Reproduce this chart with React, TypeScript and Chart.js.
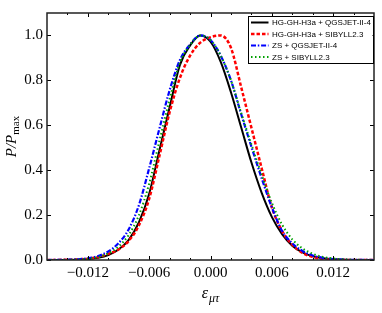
import React, { useEffect, useRef } from "react";
import { Chart, registerables } from "chart.js";

Chart.register(...registerables);

// x values (epsilon_mu_tau)
const EPS = [
  -0.016, -0.015, -0.014, -0.013, -0.012, -0.011, -0.01, -0.009, -0.008, -0.007, -0.006,
  -0.005, -0.004, -0.003, -0.002, -0.001, 0, 0.001, 0.002, 0.003, 0.004, 0.005,
  0.006, 0.007, 0.008, 0.009, 0.01, 0.011, 0.012, 0.013, 0.014, 0.015, 0.016,
];

const SERIES_LABELS = [
  "HG-GH-H3a + QGSJET-II-4",
  "HG-GH-H3a + SIBYLL2.3",
  "ZS + QGSJET-II-4",
  "ZS + SIBYLL2.3",
];

const H3A_QGSJET = [
  0.0, 0.0001, 0.0004, 0.0013, 0.0037, 0.0095, 0.022, 0.047, 0.09, 0.168, 0.295,
  0.488, 0.68, 0.868, 0.955, 1.0, 0.972, 0.882, 0.747, 0.591, 0.435, 0.3,
  0.192, 0.115, 0.064, 0.034, 0.0164, 0.0074, 0.0031, 0.0012, 0.0004, 0.0002, 0.0001,
];

const H3A_SIBYLL = [
  0.0001, 0.0004, 0.001, 0.0025, 0.006, 0.013, 0.027, 0.047, 0.085, 0.155, 0.273,
  0.463, 0.658, 0.81, 0.91, 0.968, 0.992, 1.0, 0.945, 0.77, 0.59, 0.41,
  0.235, 0.13, 0.068, 0.032, 0.0134, 0.0051, 0.0018, 0.0006, 0.0002, 0.0001, 0.0,
];

const ZS_QGSJET = [
  0.0001, 0.0004, 0.0012, 0.0031, 0.0078, 0.018, 0.038, 0.075, 0.137, 0.245, 0.409,
  0.585, 0.756, 0.89, 0.96, 1.0, 0.98, 0.91, 0.8, 0.65, 0.505, 0.365,
  0.235, 0.13, 0.074, 0.04, 0.02, 0.0095, 0.0042, 0.0017, 0.0007, 0.0003, 0.0001,
];

const ZS_SIBYLL = [
  0.0001, 0.0003, 0.0008, 0.002, 0.0055, 0.013, 0.03, 0.06, 0.112, 0.2, 0.34,
  0.53, 0.715, 0.878, 0.958, 1.0, 0.98, 0.91, 0.8, 0.655, 0.515, 0.38,
  0.255, 0.158, 0.092, 0.052, 0.028, 0.014, 0.0065, 0.0028, 0.0011, 0.0004, 0.0002,
];

const X_MAJOR = [-0.012, -0.006, 0, 0.006, 0.012];
const X_MAJOR_LABELS = ["\u22120.012", "\u22120.006", "0.000", "0.006", "0.012"];
const X_MINOR = [-0.014, -0.01, -0.008, -0.004, -0.002, 0.002, 0.004, 0.008, 0.01, 0.014];
const Y_MAJOR = [0, 0.2, 0.4, 0.6, 0.8, 1.0];
const Y_MAJOR_LABELS = ["0.0", "0.2", "0.4", "0.6", "0.8", "1.0"];

const SERIF = "'Liberation Serif', 'DejaVu Serif', serif";
const SANS = "'Liberation Sans', Arial, sans-serif";

const decorPlugin = {
  id: "decor",
  afterDatasetsDraw(chart: any) {
    const { ctx, chartArea: ca, scales } = chart;
    const xs = scales.x;
    const ys = scales.y;
    ctx.save();
    ctx.strokeStyle = "#000";
    ctx.lineWidth = 1;
    // ticks
    ctx.beginPath();
    for (const v of X_MAJOR) {
      const px = Math.round(xs.getPixelForValue(v)) + 0.5;
      ctx.moveTo(px, ca.bottom); ctx.lineTo(px, ca.bottom - 4);
      ctx.moveTo(px, ca.top); ctx.lineTo(px, ca.top + 4);
    }
    for (const v of X_MINOR) {
      const px = Math.round(xs.getPixelForValue(v)) + 0.5;
      ctx.moveTo(px, ca.bottom); ctx.lineTo(px, ca.bottom - 2);
      ctx.moveTo(px, ca.top); ctx.lineTo(px, ca.top + 2);
    }
    for (const v of Y_MAJOR) {
      const py = Math.round(ys.getPixelForValue(v)) + 0.5;
      ctx.moveTo(ca.left, py); ctx.lineTo(ca.left + 4, py);
      ctx.moveTo(ca.right, py); ctx.lineTo(ca.right - 4, py);
    }
    ctx.stroke();
    // frame
    ctx.lineWidth = 1.5;
    ctx.strokeStyle = "#222";
    ctx.strokeRect(ca.left, ca.top, ca.right - ca.left, ca.bottom - ca.top);
    ctx.restore();
  },
  afterDraw(chart: any) {
    const { ctx, chartArea: ca } = chart;
    ctx.save();
    // legend
    const lx = ca.right - 126.5;
    const ly = ca.top + 3;
    const lw = 125;
    const lh = 47;
    ctx.fillStyle = "#fff";
    ctx.fillRect(lx, ly, lw, lh);
    ctx.strokeStyle = "#000";
    ctx.lineWidth = 1;
    ctx.strokeRect(Math.round(lx) + 0.5, Math.round(ly) + 0.5, Math.round(lw), Math.round(lh));
    ctx.font = `8px ${SANS}`;
    ctx.textBaseline = "middle";
    ctx.textAlign = "left";
    chart.data.datasets.forEach((ds: any, i: number) => {
      const y = ly + 6.5 + i * 11.5;
      ctx.save();
      ctx.strokeStyle = ds.borderColor;
      ctx.lineWidth = ds.borderWidth;
      ctx.setLineDash(ds.borderDash || []);
      ctx.beginPath();
      ctx.moveTo(lx + 3.5, y);
      ctx.lineTo(lx + 21, y);
      ctx.stroke();
      ctx.restore();
      ctx.fillStyle = "#000";
      ctx.fillText(ds.label, lx + 24.5, y + 0.5);
    });

    // x title: epsilon_{mu tau}
    ctx.fillStyle = "#000";
    ctx.textBaseline = "alphabetic";
    const mainX = "\u03b5";
    const subX = "\u03bc\u03c4";
    ctx.font = `italic 16px ${SERIF}`;
    const w1 = ctx.measureText(mainX).width;
    ctx.font = `italic 12px ${SERIF}`;
    const w2 = ctx.measureText(subX).width;
    const cx = (ca.left + ca.right) / 2;
    const sx = cx - (w1 + w2 + 1) / 2;
    ctx.font = `italic 16px ${SERIF}`;
    ctx.fillText(mainX, sx, 298);
    ctx.font = `italic 12px ${SERIF}`;
    ctx.fillText(subX, sx + w1 + 1, 302);

    // y title: P/P_max
    const mainY = "P/P";
    const subY = "max";
    ctx.font = `italic 15px ${SERIF}`;
    const v1 = ctx.measureText(mainY).width;
    ctx.font = `11px ${SERIF}`;
    const v2 = ctx.measureText(subY).width;
    const cy = (ca.top + ca.bottom) / 2;
    ctx.translate(16, cy);
    ctx.rotate(-Math.PI / 2);
    const st = -(v1 + v2) / 2;
    ctx.font = `italic 15px ${SERIF}`;
    ctx.fillText(mainY, st, 0);
    ctx.font = `11px ${SERIF}`;
    ctx.fillText(subY, st + v1, 2.5);
    ctx.restore();
  },
};

export default function App() {
  const ref = useRef<HTMLCanvasElement | null>(null);
  useEffect(() => {
    if (!ref.current) return;
    const mk = (arr: number[]) => EPS.map((x, i) => ({ x, y: arr[i] }));
    const chart = new Chart(ref.current, {
      type: "line",
      data: {
        datasets: [
          { label: SERIES_LABELS[0], data: mk(H3A_QGSJET), borderColor: "#000000", borderWidth: 2, borderDash: [], order: 3 },
          { label: SERIES_LABELS[1], data: mk(H3A_SIBYLL), borderColor: "#ff0000", borderWidth: 2.5, borderDash: [3.5, 2], order: 2 },
          { label: SERIES_LABELS[2], data: mk(ZS_QGSJET), borderColor: "#0000ff", borderWidth: 2.2, borderDash: [5, 1.8, 1.5, 1.8], order: 1 },
          { label: SERIES_LABELS[3], data: mk(ZS_SIBYLL), borderColor: "#00a000", borderWidth: 2, borderDash: [1.5, 2.5], order: 0 },
        ] as any,
      },
      options: {
        animation: false,
        responsive: true,
        maintainAspectRatio: false,
        layout: { padding: { left: 0, right: 8, top: 7, bottom: 0 } },
        elements: { point: { radius: 0 }, line: { cubicInterpolationMode: "monotone", fill: false } },
        plugins: { legend: { display: false }, tooltip: { enabled: false } },
        scales: {
          x: {
            type: "linear",
            min: -0.016,
            max: 0.016,
            grid: { display: false, drawTicks: false },
            border: { display: false },
            afterBuildTicks: (s: any) => { s.ticks = X_MAJOR.map((v) => ({ value: v })); },
            afterFit: (s: any) => { s.height = 53; },
            ticks: {
              autoSkip: false,
              maxRotation: 0,
              padding: 4,
              color: "#000",
              font: { family: SERIF, size: 15 },
              callback: (_v: any, i: number) => X_MAJOR_LABELS[i],
            },
          },
          y: {
            type: "linear",
            min: 0,
            max: 1.1,
            grid: { display: false, drawTicks: false },
            border: { display: false },
            afterBuildTicks: (s: any) => { s.ticks = Y_MAJOR.map((v) => ({ value: v })); },
            afterFit: (s: any) => { s.width = 47; },
            ticks: {
              autoSkip: false,
              padding: 4,
              color: "#000",
              font: { family: SERIF, size: 15 },
              callback: (_v: any, i: number) => Y_MAJOR_LABELS[i],
            },
          },
        },
      } as any,
      plugins: [decorPlugin],
    });
    return () => chart.destroy();
  }, []);
  return (
    <div style={{ position: "fixed", left: 0, top: 0, width: 382, height: 313, background: "#fff" }}>
      <canvas ref={ref} />
    </div>
  );
}
